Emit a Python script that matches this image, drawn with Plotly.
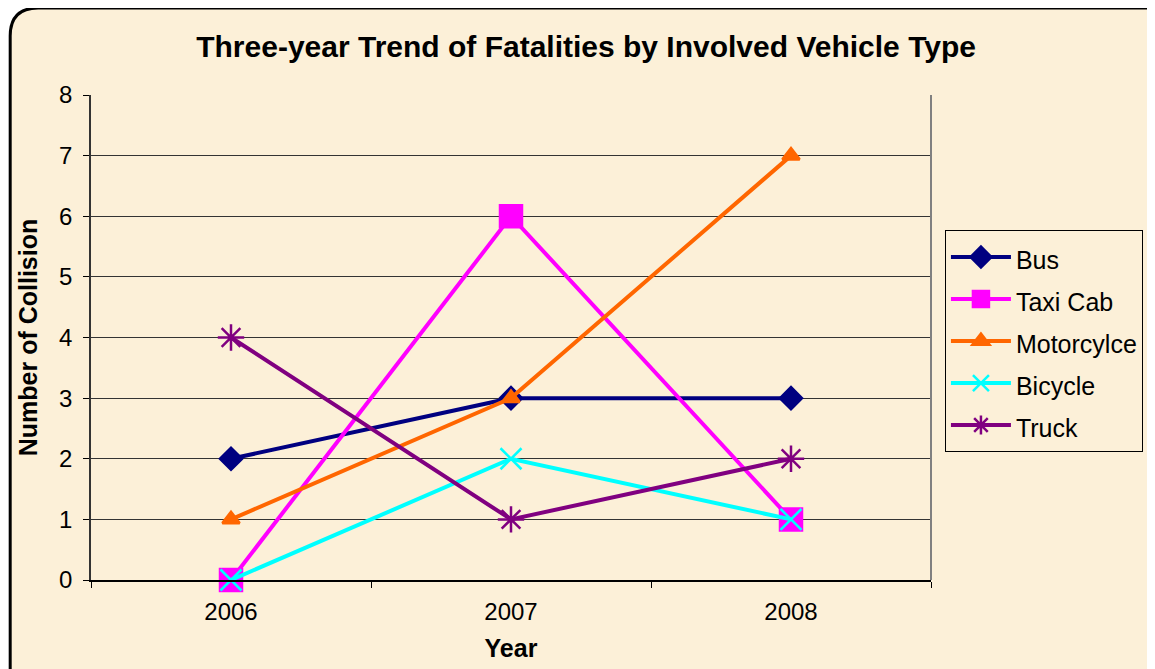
import plotly.graph_objects as go

years = ["2006", "2007", "2008"]
bus = [2, 3, 3]
taxi_cab = [0, 6, 1]
motorcycle = [1, 3, 7]
bicycle = [0, 2, 1]
truck = [4, 1, 2]

series = [
    ("Bus", bus, "#000080", "diamond", 17),
    ("Taxi Cab", taxi_cab, "#FF00FF", "square", 22),
    ("Motorcylce", motorcycle, "#FF6600", "triangle-up", 15),
    ("Bicycle", bicycle, "#00FFFF", "x-thin-open", 21),
    ("Truck", truck, "#800080", "asterisk-open", 22),
]

bg = "#FCF0D8"

fig = go.Figure()
for name, vals, color, symbol, size in series:
    fig.add_trace(go.Scatter(
        x=years, y=vals, mode="lines+markers",
        name=f'<span style="font-size:25px">{name}</span>',
        line=dict(color=color, width=4),
        marker=dict(symbol=symbol, size=size, color=color,
                    line=dict(color=color, width=2.5)),
        cliponaxis=False,
    ))

# page body has an 8px margin, so the figure is shrunk and shifted
fig.update_layout(
    width=1147, height=661,
    paper_bgcolor="white",
    plot_bgcolor=bg,
    margin=dict(l=83, r=222, t=87, b=89),
    font=dict(family="Arial, Liberation Sans, sans-serif", size=24, color="black"),
    title=dict(text="<b>Three-year Trend of Fatalities by Involved Vehicle Type</b>",
               x=0.504, xanchor="center", y=0.941, yanchor="middle",
               font=dict(size=30)),
    showlegend=True,
    legend=dict(x=1.0166, xanchor="left", y=0.7216, yanchor="top",
                bgcolor=bg, bordercolor="black", borderwidth=1,
                font=dict(size=30), itemwidth=60, tracegroupgap=0),
    xaxis=dict(type="category", tickson="boundaries", ticks="outside",
               ticklen=6, tickcolor="black", showgrid=False,
               showline=True, linecolor="black", linewidth=2,
               range=[-0.5, 2.5], ticklabelstandoff=9,
               title=dict(text="<b>Year</b>", font=dict(size=25), standoff=16)),
    yaxis=dict(range=[0, 8], dtick=1, ticks="outside", ticklen=6,
               tickcolor="black", showgrid=True, gridcolor="#333333",
               gridwidth=1, showline=True, linecolor="#333333", linewidth=1.5,
               zeroline=False, ticklabelstandoff=6,
               title=dict(text="<b>Number of Collision</b>", font=dict(size=25),
                          standoff=14)),
)

# outer rounded frame, positions given in page pixels
W = 842.0
H = 485.0
def px(xp):
    return (xp - 91) / W
def py(yp):
    return (580 - yp) / H

r = 28
frame = (f"M {px(10)},{py(700)} L {px(10)},{py(8 + r)} "
         f"Q {px(10)},{py(8)} {px(10 + r)},{py(8)} "
         f"L {px(1200)},{py(8)} L {px(1200)},{py(700)} Z")
fig.layout.shapes = (
    dict(type="path", xref="paper", yref="paper", layer="below", path=frame,
         fillcolor=bg, line=dict(color="black", width=3)),
    dict(type="line", xref="paper", yref="paper", layer="above",
         x0=1, x1=1, y0=0, y1=1, line=dict(color="#808080", width=2)),
)

fig.write_html("out.html")
